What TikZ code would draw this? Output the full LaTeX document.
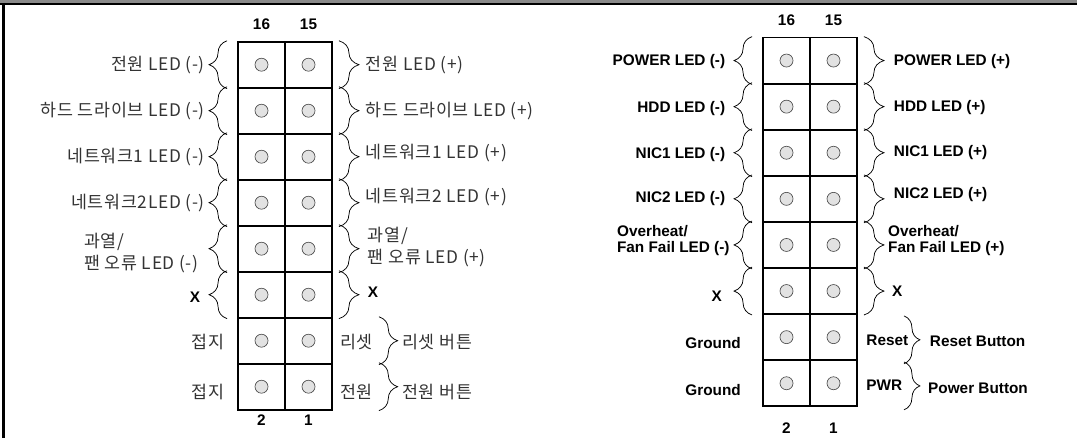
\documentclass[tikz,border=0pt]{standalone}
\usepackage{fontspec}
\setmainfont{Liberation Sans}
\newfontfamily\krfont[LetterSpace=4]{Noto Sans CJK KR}
\usetikzlibrary{positioning,decorations.pathreplacing}
\definecolor{pinfill}{HTML}{E2E2E2}
\definecolor{framegray}{HTML}{8A8A8A}
\definecolor{krgray}{HTML}{333333}

\begin{document}
\begin{tikzpicture}[x=0.75pt, y=-0.75pt,
  cell/.style={rectangle, draw, line width=1.4pt, minimum width=35.25pt,
    minimum height=34.5pt, inner sep=0pt},
  pin/.style={circle, draw=black!70, fill=pinfill, line width=0.5pt,
    minimum size=9.75pt, inner sep=0pt},
  curl/.style={decorate, decoration={brace, amplitude=#1}, line width=0.55pt},
  kr/.style={font=\krfont\fontsize{13}{16.5}\selectfont, text=krgray,
    inner sep=0pt},
  en/.style={font=\bfseries\fontsize{11.5}{12}\selectfont, inner sep=0pt},
  pinnum/.style={font=\bfseries\fontsize{11.5}{12}\selectfont, inner sep=0pt},
]
  \useasboundingbox (0,0) rectangle (1077,438);
  % frame
  \fill[framegray] (0,0) rectangle (1077,3);
  \draw[line width=1.9pt] (0,4) -- (1077,4);
  \draw[line width=1.9pt] (3.5,3) -- (3.5,438);

  % connector cells and pins (Korean left, English right)
  \foreach \r in {1,...,8} {
    \node[cell] (koA\r) at (261.5,{41.7+46*(\r-0.5)}) {};
    \node[cell] (koB\r) at (308.5,{41.7+46*(\r-0.5)}) {};
    \node[pin] (koAp\r) at (koA\r) {};
    \node[pin] (koBp\r) at (koB\r) {};
    \node[cell] (enA\r) at (786.5,{37.5+46.1*(\r-0.5)}) {};
    \node[cell] (enB\r) at (833.5,{37.5+46.1*(\r-0.5)}) {};
    \node[pin] (enAp\r) at (enA\r) {};
    \node[pin] (enBp\r) at (enB\r) {};
  }

  % pin numbers
  \node[pinnum] (ko16) at ([yshift=12.5pt]koA1.north) {16};
  \node[pinnum] (ko15) at ([yshift=12.5pt]koB1.north) {15};
  \node[pinnum] (ko2) at ([yshift=-7.5pt]koA8.south) {2};
  \node[pinnum] (ko1) at ([yshift=-7.5pt]koB8.south) {1};
  \node[pinnum] (en16) at ([yshift=12.5pt]enA1.north) {16};
  \node[pinnum] (en15) at ([yshift=12.5pt]enB1.north) {15};
  \node[pinnum] (en2) at ([yshift=-16pt]enA8.south) {2};
  \node[pinnum] (en1) at ([yshift=-16pt]enB8.south) {1};

  % braces
  \foreach \r in {1,...,6} {
    \draw[curl=13.5pt] ([xshift=-7.5pt]koA\r.south west) -- ([xshift=-7.5pt]koA\r.north west);
    \draw[curl=15pt] ([xshift=4.5pt]koB\r.north east) -- ([xshift=4.5pt]koB\r.south east);
    \draw[curl=13.5pt] ([xshift=-7.5pt]enA\r.south west) -- ([xshift=-7.5pt]enA\r.north west);
    \draw[curl=15pt] ([xshift=4.5pt]enB\r.north east) -- ([xshift=4.5pt]enB\r.south east);
  }
  \foreach \r in {7,8} {
    \draw[curl=14pt] ([xshift=34.5pt]koB\r.north east) -- ([xshift=34.5pt]koB\r.south east);
    \draw[curl=12pt] ([xshift=34.5pt,yshift=-2pt]enB\r.north east) -- ([xshift=34.5pt,yshift=-2pt]enB\r.south east);
  }

  % Korean labels
  \foreach \r/\txt in {1/전원 LED (-), 2/하드 드라이브 LED (-), 3/네트워크1 LED (-), 4/네트워크2LED (-)}
    \node[kr, left=24pt of koA\r] (koL\r) {\txt};
  \foreach \r/\txt/\up in {1/전원 LED (+)/0, 2/하드 드라이브 LED (+)/0, 3/네트워크1 LED (+)/2.8, 4/네트워크2 LED (+)/4.3}
    \node[kr, right=24.5pt of koB\r, yshift=\up pt] (koR\r) {\txt};
  \node[kr, align=left, left=28.7pt of koA5, yshift=-3.6pt] (koL5) {과열/\\팬 오류 LED (-)};
  \node[kr, align=left, right=26pt of koB5, yshift=1.6pt] (koR5) {과열/\\팬 오류 LED (+)};
  \node[en, left=27.5pt of koA6, yshift=-1.7pt] (koL6) {X};
  \node[en, right=26pt of koB6, yshift=2pt] (koR6) {X};
  \node[kr, left=9.4pt of koA7, yshift=-1pt] (koL7) {접지};
  \node[kr, left=9.4pt of koA8, yshift=-4pt] (koL8) {접지};
  \node[kr, right=5.25pt of koB7, yshift=-1pt] (koR7) {리셋};
  \node[kr, right=5.25pt of koB8, yshift=-4pt] (koR8) {전원};
  \node[kr, right=51.75pt of koB7, yshift=-1pt] (koS7) {리셋 버튼};
  \node[kr, right=51.75pt of koB8, yshift=-4pt] (koS8) {전원 버튼};

  % English labels
  \foreach \r/\txt/\up in {1/POWER LED (-)/-1, 2/HDD LED (-)/-1.5, 3/NIC1 LED (-)/-1.5, 4/NIC2 LED (-)/0}
    \node[en, left=27.5pt of enA\r, yshift=\up pt] (enL\r) {\txt};
  \foreach \r/\txt/\up in {1/POWER LED (+)/-1, 2/HDD LED (+)/-1, 3/NIC1 LED (+)/0, 4/NIC2 LED (+)/3}
    \node[en, right=26.8pt of enB\r, yshift=\up pt] (enR\r) {\txt};
  \node[en, align=left, left=24.2pt of enA5, yshift=3.4pt] (enL5) {Overheat/\\Fan Fail LED (-)};
  \node[en, align=left, right=22.5pt of enB5, yshift=3.4pt] (enR5) {Overheat/\\Fan Fail LED (+)};
  \node[en, left=30pt of enA6, yshift=-3.7pt] (enL6) {X};
  \node[en, right=25.5pt of enB6] (enR6) {X};
  \node[en, left=15.75pt of enA7, yshift=-4.3pt] (enL7) {Ground};
  \node[en, left=15.75pt of enA8, yshift=-5pt] (enL8) {Ground};
  \node[en, right=6.2pt of enB7, yshift=-2pt] (enR7) {Reset};
  \node[en, right=6.2pt of enB8, yshift=-1.3pt] (enR8) {PWR};
  \node[en, right=53.8pt of enB7, yshift=-3pt] (enS7) {Reset Button};
  \node[en, right=52.5pt of enB8, yshift=-3.5pt] (enS8) {Power Button};
\end{tikzpicture}
\end{document}
